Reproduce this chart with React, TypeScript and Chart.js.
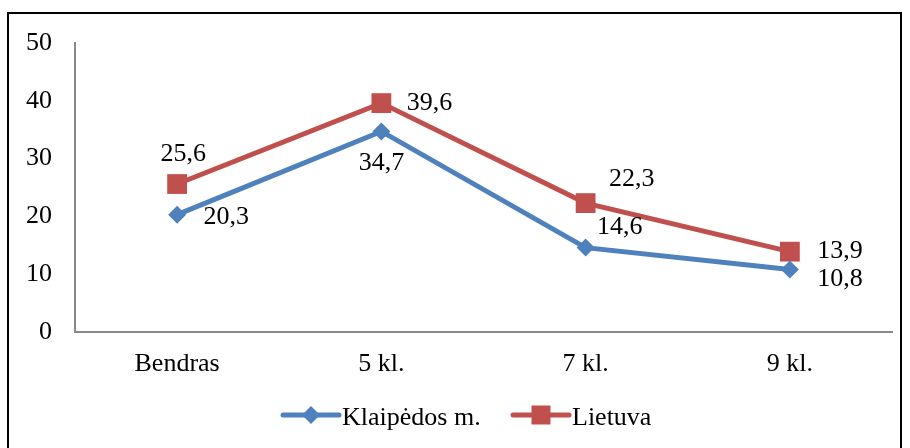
import React, { useEffect, useRef } from "react";
import { Chart, registerables } from "chart.js";

Chart.register(...registerables);

const categories = ["Bendras", "5 kl.", "7 kl.", "9 kl."];
const klaipedaValues = [20.3, 34.7, 14.6, 10.8];
const lietuvaValues = [25.6, 39.6, 22.3, 13.9];
const seriesNames = ["Klaipėdos m.", "Lietuva"];
const yTickStep = 10;
const yMax = 50;

const FONT_FAMILY = "'Liberation Serif', 'Times New Roman', serif";
const FONT_SIZE = 26;
const BLUE = "#4F81BD";
const RED = "#C0504D";
const AXIS = "#898989";

// label offsets (px) relative to each point, per series
const klaipedaLabelOffsets = [
  [49, 3],
  [0, 32],
  [34, -20],
  [50, 10],
];
const lietuvaLabelOffsets = [
  [6, -30],
  [48, 0],
  [46, -24],
  [50, 0],
];

const fmt = (v: number) => v.toFixed(1).replace(".", ",");

const dataLabelPlugin = {
  id: "dataLabels",
  afterDatasetsDraw(chart: any) {
    const ctx = chart.ctx;
    const offsets = [klaipedaLabelOffsets, lietuvaLabelOffsets];
    ctx.save();
    ctx.font = `${FONT_SIZE}px ${FONT_FAMILY}`;
    ctx.fillStyle = "#000";
    ctx.textAlign = "center";
    ctx.textBaseline = "middle";
    chart.data.datasets.forEach((ds: any, di: number) => {
      const meta = chart.getDatasetMeta(di);
      meta.data.forEach((pt: any, i: number) => {
        const [dx, dy] = offsets[di][i];
        ctx.fillText(fmt(ds.data[i]), pt.x + dx, pt.y + dy);
      });
    });
    ctx.restore();
  },
};

const legendPlugin = {
  id: "customLegend",
  afterDraw(chart: any) {
    const ctx = chart.ctx;
    const y = 401;
    const items = [
      { x0: 274, color: BLUE, style: "diamond" },
      { x0: 504, color: RED, style: "square" },
    ];
    ctx.save();
    chart.data.datasets.forEach((ds: any, di: number) => {
      const it = items[di];
      const lineLen = 56;
      ctx.strokeStyle = it.color;
      ctx.lineWidth = 5;
      ctx.lineCap = "round";
      ctx.beginPath();
      ctx.moveTo(it.x0, y);
      ctx.lineTo(it.x0 + lineLen, y);
      ctx.stroke();
      const cx = it.x0 + lineLen / 2;
      ctx.fillStyle = it.color;
      ctx.beginPath();
      if (it.style === "diamond") {
        const r = 9;
        ctx.moveTo(cx, y - r);
        ctx.lineTo(cx + r, y);
        ctx.lineTo(cx, y + r);
        ctx.lineTo(cx - r, y);
        ctx.closePath();
      } else {
        const s = 9.5;
        ctx.rect(cx - s, y - s, 2 * s, 2 * s);
      }
      ctx.fill();
      ctx.font = `${FONT_SIZE}px ${FONT_FAMILY}`;
      ctx.fillStyle = "#000";
      ctx.textAlign = "left";
      ctx.textBaseline = "middle";
      ctx.fillText(ds.label, it.x0 + lineLen + 3, y + 3);
    });
    ctx.restore();
  },
};

export default function App() {
  const ref = useRef<HTMLCanvasElement>(null);

  useEffect(() => {
    if (!ref.current) return;
    const font = { family: FONT_FAMILY, size: FONT_SIZE };
    const chart = new Chart(ref.current, {
      type: "line",
      data: {
        labels: categories,
        datasets: [
          {
            label: seriesNames[0],
            data: klaipedaValues,
            borderColor: BLUE,
            backgroundColor: BLUE,
            borderWidth: 5,
            pointStyle: "rectRot",
            pointRadius: 9,
            pointBorderWidth: 0,
            pointBackgroundColor: BLUE,
            tension: 0,
          },
          {
            label: seriesNames[1],
            data: lietuvaValues,
            borderColor: RED,
            backgroundColor: RED,
            borderWidth: 5,
            pointStyle: "rect",
            pointRadius: 14,
            pointBorderWidth: 0,
            pointBackgroundColor: RED,
            tension: 0,
          },
        ],
      },
      options: {
        animation: false,
        responsive: false,
        maintainAspectRatio: false,
        layout: {
          autoPadding: false,
          padding: { top: 29, right: 8, left: 0, bottom: 0 },
        },
        plugins: {
          legend: { display: false },
          tooltip: { enabled: false },
        },
        scales: {
          x: {
            offset: true,
            grid: { display: false, drawTicks: false },
            border: { color: AXIS, width: 2 },
            ticks: { font, color: "#000", padding: 17, maxRotation: 0 },
            afterFit(s: any) {
              s.height = 116;
              s.paddingLeft = 0;
              s.paddingRight = 0;
            },
          },
          y: {
            min: 0,
            max: yMax,
            grid: { display: false, drawTicks: false },
            border: { color: AXIS, width: 2 },
            ticks: { stepSize: yTickStep, font, color: "#000", padding: 23 },
            afterFit(s: any) {
              s.width = 66;
              s.paddingTop = 0;
              s.paddingBottom = 0;
            },
          },
        },
      },
      plugins: [dataLabelPlugin, legendPlugin],
    });
    return () => chart.destroy();
  }, []);

  return (
    <div
      style={{
        position: "fixed",
        left: 7,
        top: 12,
        width: 891,
        height: 440,
        border: "2px solid #000",
        background: "#fff",
      }}
    >
      <canvas ref={ref} width={891} height={434} style={{ display: "block" }} />
    </div>
  );
}
